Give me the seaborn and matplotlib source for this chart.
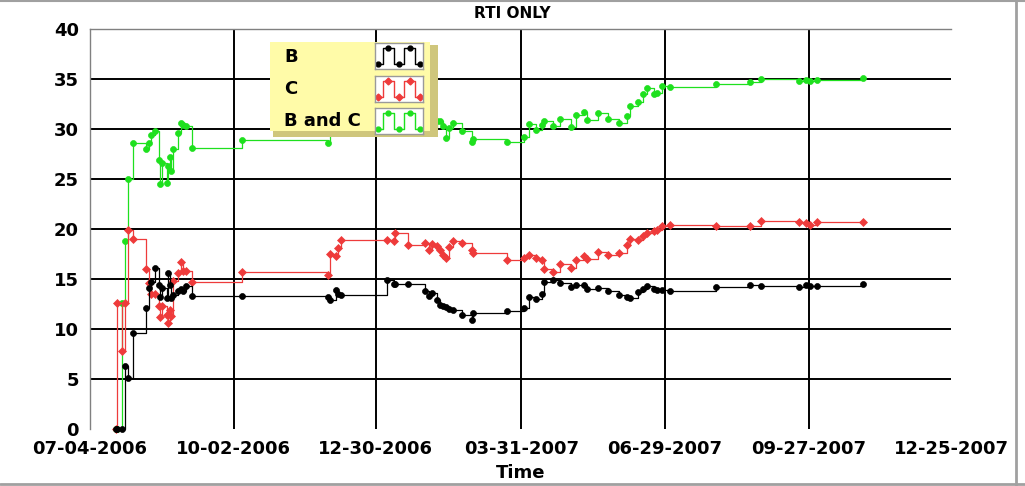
import pandas as pd
import matplotlib
matplotlib.use('Agg')
import matplotlib.pyplot as plt
import matplotlib.dates as mdates
from matplotlib.lines import Line2D
from matplotlib.patches import Rectangle
import seaborn as sns

#%% Dados

dates = [
    '2006-07-20', '2006-07-21', '2006-07-24', '2006-07-26', '2006-07-28', '2006-07-31',
    '2006-08-08', '2006-08-10', '2006-08-11', '2006-08-14', '2006-08-16', '2006-08-17',
    '2006-08-18', '2006-08-21', '2006-08-22', '2006-08-23', '2006-08-24', '2006-08-25',
    '2006-08-28', '2006-08-30', '2006-08-31', '2006-09-02', '2006-09-06', '2006-10-07',
    '2006-11-30', '2006-12-01', '2006-12-05', '2006-12-06', '2006-12-08', '2007-01-06',
    '2007-01-10', '2007-01-11', '2007-01-19', '2007-01-30', '2007-02-01', '2007-02-03',
    '2007-02-06', '2007-02-08', '2007-02-10', '2007-02-12', '2007-02-14', '2007-02-16',
    '2007-02-22', '2007-02-28', '2007-03-01', '2007-03-22', '2007-04-02', '2007-04-05',
    '2007-04-09', '2007-04-13', '2007-04-14', '2007-04-20', '2007-04-24', '2007-05-01',
    '2007-05-04', '2007-05-09', '2007-05-11', '2007-05-18', '2007-05-24', '2007-05-31',
    '2007-06-05', '2007-06-07', '2007-06-12', '2007-06-15', '2007-06-18', '2007-06-22',
    '2007-06-24', '2007-06-27', '2007-07-02', '2007-07-31', '2007-08-21', '2007-08-28',
    '2007-09-21', '2007-09-25', '2007-09-28', '2007-10-02', '2007-10-31',
]

b_vals = [
    0, 0, 0, 6.3, 5.1, 9.6,
    12.1, 14.1, 14.7, 16.1, 14.4, 13.2,
    14.1, 13.1, 15.6, 14.4, 13.1, 13.4,
    13.8, 14.0, 13.8, 14.3, 13.3, 13.3,
    13.2, 12.9, 13.9, 13.5, 13.4, 14.9,
    14.5, 14.5, 14.5, 13.8, 13.3, 13.6,
    12.9, 12.4, 12.3, 12.2, 12.0, 11.9,
    11.4, 10.9, 11.6, 11.8, 12.1, 13.2,
    13.0, 13.5, 14.7, 14.9, 14.6, 14.2,
    14.4, 14.4, 14.0, 14.1, 13.8, 13.4,
    13.2, 13.1, 13.7, 14.0, 14.3, 14.0,
    13.9, 13.9, 13.8, 14.2, 14.4, 14.3,
    14.2, 14.4, 14.3, 14.3, 14.5,
]

c_vals = [
    0, 12.6, 7.8, 12.6, 19.9, 19.0,
    16.0, 14.6, 13.5, 13.5, 12.3, 11.2,
    12.3, 11.4, 10.6, 11.9, 11.3, 14.8,
    15.6, 16.7, 15.8, 15.8, 14.7, 15.7,
    15.4, 17.5, 17.3, 18.1, 18.9, 18.9,
    18.8, 19.6, 18.4, 18.6, 17.9, 18.5,
    18.3, 17.9, 17.4, 17.1, 18.2, 18.8,
    18.6, 17.9, 17.6, 16.9, 17.1, 17.4,
    17.1, 16.9, 16.0, 15.7, 16.5, 16.1,
    16.9, 17.3, 17.0, 17.7, 17.4, 17.6,
    18.4, 19.0, 18.9, 19.3, 19.6, 19.8,
    19.9, 20.3, 20.4, 20.3, 20.3, 20.8,
    20.7, 20.6, 20.4, 20.7, 20.7,
]

bc_vals = [
    0, 0, 12.6, 18.8, 25.0, 28.6,
    28.0, 28.6, 29.4, 29.8, 26.9, 24.5,
    26.6, 24.6, 26.3, 27.2, 25.8, 28.0,
    29.6, 30.6, 30.4, 30.3, 28.1, 28.9,
    28.6, 30.5, 31.0, 31.2, 31.5, 31.8,
    31.5, 31.7, 31.0, 30.2, 29.9, 30.1,
    30.8, 30.8, 30.3, 29.1, 30.1, 30.6,
    29.8, 28.7, 29.0, 28.7, 29.2, 30.5,
    29.9, 30.4, 30.8, 30.3, 31.0, 30.2,
    31.4, 31.7, 30.9, 31.6, 31.0, 30.6,
    31.3, 32.3, 32.7, 33.5, 34.1, 33.5,
    33.6, 34.3, 34.2, 34.5, 34.7, 35.0,
    34.8, 34.9, 34.8, 34.9, 35.1,
]

series_names = ['B', 'C', 'B and C']
tick_dates = ['2006-07-04', '2006-10-02', '2006-12-30', '2007-03-31',
              '2007-06-29', '2007-09-27', '2007-12-25']
y_ticks = [0, 5, 10, 15, 20, 25, 30, 35, 40]

# padrao do simbolo da legenda
swatch_x = [0, 1, 2, 3, 4]
swatch_y = [0, 1, 0, 1, 0]

#%% Montagem do dataframe

df = pd.DataFrame({
    'date': pd.to_datetime(dates * 3),
    'value': b_vals + c_vals + bc_vals,
    'series': [s for s in series_names for _ in dates],
})

cores = {'B': '#000000', 'C': '#EE3B3B', 'B and C': '#1EE01E'}
marcadores = {'B': 'o', 'C': 'D', 'B and C': 'o'}
tam_marc = {'B': 4.3, 'C': 3.8, 'B and C': 4.3}

#%% Grafico

sns.set_style('white')
plt.rcParams['font.family'] = ['DejaVu Sans']
plt.rcParams['font.weight'] = 'bold'
plt.rcParams['text.color'] = 'black'
plt.rcParams['axes.labelcolor'] = 'black'

W, H = 1025, 486
def fx(px):
    return px / W
def fy(py):
    return 1 - py / H

fig = plt.figure(figsize=(W / 100, H / 100), dpi=100)
ax = fig.add_axes([fx(90), fy(429.3), fx(951) - fx(90), fy(29.3) - fy(429.3)])

# grade manual (LabVIEW nao desenha nas bordas)
for y in y_ticks[1:-1]:
    ax.axhline(y, color='black', lw=1.4, zorder=0.5)
for d in tick_dates[1:-1]:
    ax.axvline(pd.Timestamp(d), color='black', lw=1.4, zorder=0.5)

for nome in ['B and C', 'C', 'B']:
    sub = df[df['series'] == nome]
    sns.lineplot(data=sub, x='date', y='value', ax=ax, color=cores[nome],
                 marker=marcadores[nome], markersize=tam_marc[nome],
                 markeredgecolor=cores[nome], markeredgewidth=0.5,
                 drawstyle='steps-post', linewidth=0.9, estimator=None,
                 legend=False, clip_on=False)

ax.set_xlim(pd.Timestamp(tick_dates[0]), pd.Timestamp(tick_dates[-1]))
ax.set_ylim(0, 40)
ax.set_xticks(pd.to_datetime(tick_dates))
ax.xaxis.set_major_formatter(mdates.DateFormatter('%m-%d-%Y'))
ax.set_yticks(y_ticks)
ax.tick_params(axis='both', direction='out', length=5, width=1, color='#808080',
               labelcolor='black', labelsize=13, pad=3)
for lbl in ax.get_xticklabels() + ax.get_yticklabels():
    lbl.set_fontweight('bold')

for lado in ['bottom', 'right']:
    ax.spines[lado].set_visible(False)
for lado in ['left', 'top']:
    ax.spines[lado].set_color('#808080')
    ax.spines[lado].set_linewidth(1)

ax.set_xlabel('Time', fontsize=13, fontweight='bold', labelpad=4, color='black')
ax.set_ylabel('')
fig.text(0.5, fy(14), 'RTI ONLY', ha='center', va='center', fontsize=11,
         fontweight='bold', color='black')

#%% Legenda estilo LabVIEW

fig.add_artist(Rectangle((fx(273), fy(137)), fx(438) - fx(273), fy(45) - fy(137),
                         transform=fig.transFigure, facecolor='#CFC67C',
                         edgecolor='none', zorder=10))
fig.add_artist(Rectangle((fx(270), fy(131)), fx(430) - fx(270), fy(42) - fy(131),
                         transform=fig.transFigure, facecolor='#FFFBA8',
                         edgecolor='none', zorder=11))

topos = [43, 76, 108]
for nome, topo in zip(series_names, topos):
    fig.text(fx(284), fy(topo + 13.5), nome, ha='left', va='center',
             fontsize=13, fontweight='bold', color='black', zorder=12)
    sw = fig.add_axes([fx(375), fy(topo + 26), fx(423) - fx(375), 26 / H])
    sw.set_zorder(12)
    sw.set_facecolor('white')
    sw.plot(swatch_x, swatch_y, color=cores[nome], marker=marcadores[nome],
            markersize=3.5, drawstyle='steps-mid', lw=1)
    sw.set_xlim(-0.25, 4.25)
    sw.set_ylim(-0.3, 1.3)
    sw.set_xticks([])
    sw.set_yticks([])
    for s in sw.spines.values():
        s.set_color('#9A9A9A')
        s.set_linewidth(1)

# moldura da janela
fig.add_artist(Line2D([0, 1], [fy(1), fy(1)], color='#A0A0A0', lw=1.5))
fig.add_artist(Line2D([fx(1016), fx(1016)], [0, 1], color='#A0A0A0', lw=2))
fig.add_artist(Line2D([0, 1], [fy(484), fy(484)], color='#A0A0A0', lw=2))

fig.savefig('out.png', dpi=100)
